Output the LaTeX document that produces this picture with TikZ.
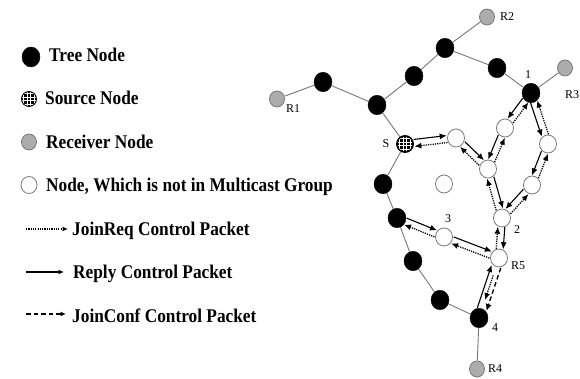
\documentclass[tikz,border=0pt]{standalone}
\usepackage{fontspec}
\setmainfont{Liberation Serif}
\usetikzlibrary{arrows.meta,calc,shapes.geometric}

% Reply (solid) from #1 to #2 and JoinReq (dotted) back from #2 to #1.
% \pktL puts the reply on the left of its direction of travel, \pktR on the right.
\newcommand\pktL[2]{%
  \draw[reply, shorten <=9pt, shorten >=9pt] ($(#1)!3.5pt!90:(#2)$) -- ($(#2)!3.5pt!-90:(#1)$);
  \draw[joinreq, shorten <=9pt, shorten >=9pt] ($(#2)!3.5pt!90:(#1)$) -- ($(#1)!3.5pt!-90:(#2)$);
}
\newcommand\pktR[2]{%
  \draw[reply, shorten <=9pt, shorten >=9pt] ($(#1)!3.5pt!-90:(#2)$) -- ($(#2)!3.5pt!90:(#1)$);
  \draw[joinreq, shorten <=9pt, shorten >=9pt] ($(#2)!3.5pt!-90:(#1)$) -- ($(#1)!3.5pt!90:(#2)$);
}
% legend text, set a little taller than wide
\newcommand\legstr[1]{\scalebox{1}[1.12]{#1}}

\begin{document}
\begin{tikzpicture}[x=1pt,y=-1pt,
  edge/.style={draw={rgb,255:red,120;green,120;blue,120}, line width=0.9pt},
  treenode/.style={ellipse, inner sep=0pt, minimum width=18pt, minimum height=19.5pt, fill=black, draw=black},
  plainnode/.style={ellipse, inner sep=0pt, minimum width=17pt, minimum height=18pt, fill=white,
    draw={rgb,255:red,120;green,120;blue,120}, line width=0.8pt},
  recvnode/.style={ellipse, inner sep=0pt, minimum width=15pt, minimum height=16pt,
    fill={rgb,255:red,172;green,172;blue,172},
    draw={rgb,255:red,120;green,120;blue,120}, line width=0.8pt},
  srcnode/.style={circle, inner sep=0pt, minimum size=17pt, fill=black, draw=black, line width=0.8pt,
    path picture={
      \foreach \k in {-5.7,-1.9,1.9,5.7}{
        \draw[white, line width=1.1pt] ([xshift=\k pt]path picture bounding box.north) -- ([xshift=\k pt]path picture bounding box.south);
        \draw[white, line width=1.1pt] ([yshift=\k pt]path picture bounding box.west) -- ([yshift=\k pt]path picture bounding box.east);
      }
      \draw[black, line width=0.9pt] (path picture bounding box.center) circle (8pt);
    }},
  lbl/.style={font=\fontsize{12}{12}\selectfont, inner sep=0pt},
  legtext/.style={font=\fontsize{17.3}{20}\selectfont\bfseries, anchor=base west, inner sep=0pt},
  reply/.style={-{Latex[length=7pt,width=6pt]}, line width=1.1pt},
  joinreq/.style={-{Latex[length=7pt,width=6pt]}, line width=1.3pt, dash pattern=on 1.2pt off 1.1pt},
  joinconf/.style={-{Latex[length=7pt,width=6pt]}, line width=1.3pt, dash pattern=on 4.5pt off 3pt},
  legtip/.style={-{Latex[length=5.5pt,width=5pt]}},
]
\useasboundingbox[fill=white] (0,0) rectangle (580,379);

% ---------- legend ----------
\node[treenode, minimum width=18pt, minimum height=20pt] (kTree) at (31,57) {};
\node[legtext] (tTree) at (49,61.5) {\legstr{Tree Node}};
\node[srcnode, minimum size=15pt] (kSrc) at (29,99) {};
\node[legtext] (tSrc) at (45,105) {\legstr{Source Node}};
\node[recvnode] (kRecv) at (29,142) {};
\node[legtext] (tRecv) at (46,148.5) {\legstr{Receiver Node}};
\node[plainnode, minimum width=16pt, minimum height=17pt] (kPlain) at (29,185) {};
\node[legtext] (tPlain) at (46,192) {\legstr{Node, Which is not in Multicast Group}};
\coordinate (jrA) at (26,229); \coordinate (jrB) at (68,229);
\draw[joinreq, legtip] (jrA) -- (jrB);
\node[legtext] (tJr) at (72,235) {\legstr{JoinReq Control Packet}};
\coordinate (rpA) at (26,272); \coordinate (rpB) at (64,272);
\draw[reply, legtip] (rpA) -- (rpB);
\node[legtext] (tRp) at (73,278.5) {\legstr{Reply Control Packet}};
\coordinate (jcA) at (26,314); \coordinate (jcB) at (66,314);
\draw[joinconf, legtip] (jcA) -- (jcB);
\node[legtext] (tJc) at (72,322) {\legstr{JoinConf Control Packet}};

% ---------- network ----------
% multicast tree
\node[treenode] (t1) at (323,82) {};
\node[treenode] (t2) at (377,105) {};
\node[treenode] (t3) at (414,76) {};
\node[treenode] (t4) at (445,48) {};
\node[treenode] (t5) at (497,68) {};
\node[treenode] (n1) at (531,93) {};
\node[treenode] (t6) at (383,184) {};
\node[treenode] (t7) at (397,218) {};
\node[treenode] (t8) at (413,261) {};
\node[treenode] (t9) at (440,300) {};
\node[treenode] (n4) at (479,318) {};
% receivers
\node[recvnode] (r1) at (277,99) {};
\node[recvnode] (r2) at (487,17) {};
\node[recvnode] (r3) at (565,68) {};
\node[recvnode] (r4) at (477,369) {};
% source
\node[srcnode] (s) at (405,144) {};
% nodes outside the group
\node[plainnode] (w1) at (456,138) {};
\node[plainnode] (w2) at (505,128) {};
\node[plainnode] (w3) at (488,169) {};
\node[plainnode] (w4) at (548,144) {};
\node[plainnode] (w5) at (532,185) {};
\node[plainnode] (wi) at (444,184) {};
\node[plainnode] (n2) at (502,218) {};
\node[plainnode] (n3) at (444,237) {};
\node[plainnode] (r5) at (499,258) {};

% tree links
\draw[edge] (r1) -- (t1);
\draw[edge] (t1) -- (t2);
\draw[edge] (t2) -- (t3);
\draw[edge] (t3) -- (t4);
\draw[edge] (t4) -- (r2);
\draw[edge] (t4) -- (t5);
\draw[edge] (t5) -- (n1);
\draw[edge] (n1) -- (r3);
\draw[edge] (t2) -- (s);
\draw[edge] (s) -- (t6);
\draw[edge] (t6) -- (t7);
\draw[edge] (t7) -- (t8);
\draw[edge] (t8) -- (t9);
\draw[edge] (t9) -- (n4);
\draw[edge] (n4) -- (r4);

% control packets
\pktL{s}{w1}
\pktL{w1}{w3}
\pktR{n1}{w2}
\pktR{w2}{w3}
\pktR{n1}{w4}
\pktR{w4}{w5}
\pktR{w5}{n2}
\pktL{w3}{n2}
\pktL{n2}{r5}
\pktL{t7}{n3}
\pktL{n3}{r5}
\draw[reply, shorten <=9pt, shorten >=9pt] ($(n4)!4.8pt!90:(r5)$) -- ($(r5)!4.8pt!-90:(n4)$);
\draw[joinreq, shorten <=9pt, shorten >=9pt] (r5) -- (n4);
\draw[joinconf, shorten <=9pt, shorten >=9pt] ($(r5)!4.8pt!90:(n4)$) -- ($(n4)!4.8pt!-90:(r5)$);

% labels
\node[lbl] (lr1) at (293,109) {R1};
\node[lbl] (lr2) at (507,17) {R2};
\node[lbl] (lr3) at (572,95) {R3};
\node[lbl] (lr4) at (495,369) {R4};
\node[lbl] (lr5) at (518,266) {R5};
\node[lbl] (ls) at (386,144) {S};
\node[lbl] (l1) at (528,75) {1};
\node[lbl] (l2) at (517,230) {2};
\node[lbl] (l3) at (448,219) {3};
\node[lbl] (l4) at (495,328) {4};
\end{tikzpicture}
\end{document}
